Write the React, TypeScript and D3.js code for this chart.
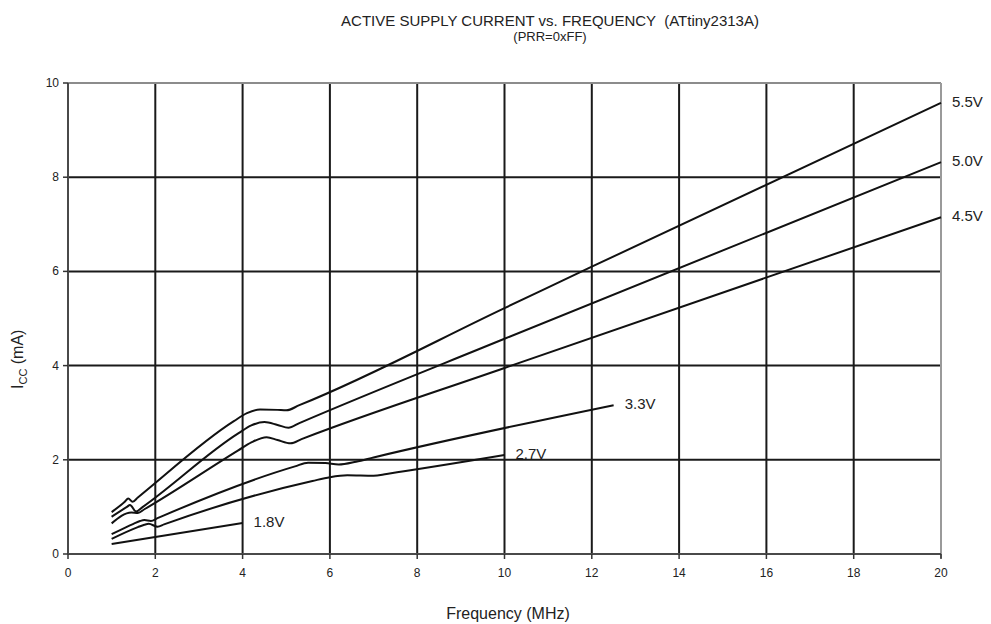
import { useEffect, useRef } from "react"
import * as d3 from "d3"

// frequency (MHz) / current (mA) pairs
const v55: [number, number][] = [[1, 0.89], [1.3, 1.11], [1.38, 1.18], [1.48, 1.11], [1.6, 1.2], [3.8, 2.82], [4.1, 2.99], [4.4, 3.07], [4.8, 3.06], [5.0, 3.05], [5.3, 3.16], [10, 5.22], [12, 6.1], [20, 9.58]]
const v50: [number, number][] = [[1, 0.79], [1.35, 1.0], [1.42, 1.04], [1.56, 0.9], [1.7, 0.99], [3.9, 2.56], [4.2, 2.73], [4.5, 2.8], [4.8, 2.74], [5.05, 2.68], [5.3, 2.78], [10, 4.57], [20, 8.32]]
const v45: [number, number][] = [[1, 0.65], [1.45, 0.88], [1.6, 0.87], [1.75, 0.95], [3.9, 2.2], [4.2, 2.37], [4.55, 2.48], [4.8, 2.42], [5.1, 2.35], [5.35, 2.44], [10, 3.95], [20, 7.15]]
const v33: [number, number][] = [[1, 0.42], [1.5, 0.64], [1.65, 0.7], [1.75, 0.72], [1.9, 0.7], [2.05, 0.76], [2.2, 0.82], [5.2, 1.86], [5.5, 1.94], [5.9, 1.93], [6.2, 1.9], [6.6, 1.96], [7, 2.05], [12.5, 3.16]]
const v27: [number, number][] = [[1, 0.32], [1.6, 0.57], [1.75, 0.62], [1.85, 0.64], [2.05, 0.58], [2.2, 0.63], [5.6, 1.55], [6.0, 1.63], [6.4, 1.67], [7.0, 1.66], [7.3, 1.7], [10, 2.1]]
const v18: [number, number][] = [[1, 0.21], [4, 0.66]]

const seriesNames = ["5.5V", "5.0V", "4.5V", "3.3V", "2.7V", "1.8V"]
const seriesData = [v55, v50, v45, v33, v27, v18]
const xTicks = [0, 2, 4, 6, 8, 10, 12, 14, 16, 18, 20]
const yTicks = [0, 2, 4, 6, 8, 10]

export default function App() {
  const ref = useRef<SVGSVGElement>(null)

  useEffect(() => {
    const svg = d3.select(ref.current!)
    svg.selectAll("*").remove()
    const x = d3.scaleLinear().domain([0, 20]).range([68, 941])
    const y = d3.scaleLinear().domain([0, 10]).range([554, 83])
    const font = "'Liberation Sans', Arial, sans-serif"

    // grid
    svg.append("g").selectAll("line").data(xTicks.slice(1, -1)).join("line")
      .attr("x1", d => x(d)).attr("x2", d => x(d)).attr("y1", y(10)).attr("y2", y(0))
      .attr("stroke", "#1a1a1a").attr("stroke-width", 2)
    svg.append("g").selectAll("line").data(yTicks.slice(1, -1)).join("line")
      .attr("x1", x(0)).attr("x2", x(20)).attr("y1", d => y(d)).attr("y2", d => y(d))
      .attr("stroke", "#1a1a1a").attr("stroke-width", 2)

    // frame: top and right light, left and bottom darker
    svg.append("line").attr("x1", x(0)).attr("x2", x(20)).attr("y1", y(10)).attr("y2", y(10))
      .attr("stroke", "#8c8c8c").attr("stroke-width", 2)
    svg.append("line").attr("x1", x(20)).attr("x2", x(20)).attr("y1", y(10)).attr("y2", y(0) + 4)
      .attr("stroke", "#9a9a9a").attr("stroke-width", 2)
    svg.append("line").attr("x1", x(0)).attr("x2", x(0)).attr("y1", y(10)).attr("y2", y(0))
      .attr("stroke", "#4a4a4a").attr("stroke-width", 2)
    svg.append("line").attr("x1", x(0)).attr("x2", x(20)).attr("y1", y(0)).attr("y2", y(0))
      .attr("stroke", "#4a4a4a").attr("stroke-width", 2)

    // ticks
    svg.append("g").selectAll("line").data(xTicks).join("line")
      .attr("x1", d => x(d)).attr("x2", d => x(d)).attr("y1", y(0)).attr("y2", y(0) + 5)
      .attr("stroke", "#333").attr("stroke-width", 1.5)
    svg.append("g").selectAll("line").data(yTicks).join("line")
      .attr("x1", x(0) - 5).attr("x2", x(0)).attr("y1", d => y(d)).attr("y2", d => y(d))
      .attr("stroke", "#333").attr("stroke-width", 1.5)

    svg.append("g").selectAll("text").data(xTicks).join("text")
      .attr("x", d => x(d)).attr("y", y(0) + 23).attr("text-anchor", "middle")
      .attr("font-family", font).attr("font-size", 12).attr("fill", "#222").text(d => d)
    svg.append("g").selectAll("text").data(yTicks).join("text")
      .attr("x", x(0) - 9).attr("y", d => y(d) + 4).attr("text-anchor", "end")
      .attr("font-family", font).attr("font-size", 12).attr("fill", "#222").text(d => d)

    // curves
    const line = d3.line<[number, number]>().x(d => x(d[0])).y(d => y(d[1])).curve(d3.curveMonotoneX)
    seriesData.forEach((s, i) => {
      svg.append("path").attr("d", line(s) || "").attr("fill", "none")
        .attr("stroke", "#111").attr("stroke-width", 2)
      const last = s[s.length - 1]
      svg.append("text").attr("x", x(last[0]) + 11).attr("y", y(last[1]) + 4)
        .attr("font-family", font).attr("font-size", 15).attr("fill", "#222").text(seriesNames[i])
    })

    // titles
    svg.append("text").attr("x", 550).attr("y", 26).attr("text-anchor", "middle")
      .attr("font-family", font).attr("font-size", 15).attr("fill", "#222")
      .attr("xml:space", "preserve").text("ACTIVE SUPPLY CURRENT vs. FREQUENCY  (ATtiny2313A)")
    svg.append("text").attr("x", 550).attr("y", 41).attr("text-anchor", "middle")
      .attr("font-family", font).attr("font-size", 13).attr("fill", "#222").text("(PRR=0xFF)")
    svg.append("text").attr("x", 508).attr("y", 619).attr("text-anchor", "middle")
      .attr("font-family", font).attr("font-size", 16).attr("fill", "#222").text("Frequency (MHz)")
    const yl = svg.append("text").attr("transform", "translate(23,389) rotate(-90)")
      .attr("text-anchor", "start").attr("font-family", font).attr("font-size", 16).attr("fill", "#222")
    yl.append("tspan").text("I")
    yl.append("tspan").attr("font-size", 11).attr("dy", 4).text("CC")
    yl.append("tspan").attr("dy", -4).text(" (mA)")
  }, [])

  return (
    <svg ref={ref} width={991} height={624} style={{ position: "absolute", left: 0, top: 0, background: "#fff" }} />
  )
}
